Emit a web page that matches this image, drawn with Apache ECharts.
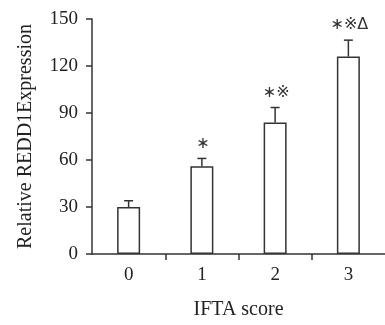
<!DOCTYPE html>
<html>
<head>
<meta charset="utf-8">
<script src="https://cdn.jsdelivr.net/npm/echarts@6/dist/echarts.min.js"></script>
<style>html,body{margin:0;padding:0;background:#fff}#c{width:385px;height:325px}</style>
</head>
<body>
<div id="c"></div>
<script>
var categories = ['0', '1', '2', '3'];
var values = [30, 56, 84, 126];
var errors = [4, 5, 9.5, 10.5];
var marks = ['', '\u2217', '\u2217\u203B', '\u2217\u203B\u0394'];
var yTicks = [0, 30, 60, 90, 120, 150];

var serif = '"Liberation Serif", "DejaVu Serif", serif';
var catIdx = categories.map(function (c, i) { return i; });
var boundaries = categories.slice(1).map(function (c, i) { return i + 0.5; });
var chart = echarts.init(document.getElementById('c'), null, {renderer: 'canvas'});
chart.setOption({
  animation: false,
  grid: {left: 92, right: -8, top: 19, bottom: 62, containLabel: false},
  xAxis: {
    type: 'value',
    min: -0.5, max: categories.length - 0.5,
    name: 'IFTA score',
    nameLocation: 'middle',
    nameGap: 46,
    nameTextStyle: {fontFamily: serif, fontSize: 20, color: '#222'},
    axisLine: {show: true, onZero: false, lineStyle: {color: '#333', width: 1.5}},
    axisTick: {show: true, length: 6, lineStyle: {color: '#333', width: 1.5}, customValues: boundaries},
    axisLabel: {fontFamily: serif, fontSize: 19, color: '#222', margin: 12, customValues: catIdx,
      formatter: function (v) { return categories[Math.round(v)]; }},
    splitLine: {show: false}
  },
  yAxis: {
    type: 'value',
    min: yTicks[0], max: yTicks[yTicks.length - 1], interval: 30,
    name: 'Relative REDD1Expression',
    nameLocation: 'middle',
    nameGap: 56,
    nameTextStyle: {fontFamily: serif, fontSize: 20, color: '#222'},
    axisLine: {show: true, onZero: false, lineStyle: {color: '#333', width: 1.5}},
    axisTick: {show: true, length: 6, lineStyle: {color: '#333', width: 1.5}},
    axisLabel: {fontFamily: serif, fontSize: 19, color: '#222', margin: 14},
    splitLine: {show: false}
  },
  series: [
    {
      type: 'bar',
      data: values.map(function (v, i) { return [i, v]; }),
      barWidth: 23,
      itemStyle: {color: '#fff', borderColor: '#333', borderWidth: 1.5},
      z: 2
    },
    {
      type: 'custom',
      data: values.map(function (v, i) { return [i, v, errors[i]]; }),
      z: 3,
      renderItem: function (params, api) {
        var x = api.coord([api.value(0), 0])[0];
        var top = api.coord([api.value(0), api.value(1)])[1];
        var et = api.coord([api.value(0), api.value(1) + api.value(2)])[1];
        var st = {stroke: '#333', lineWidth: 1.5};
        var children = [
          {type: 'line', shape: {x1: x, y1: top, x2: x, y2: et}, style: st},
          {type: 'line', shape: {x1: x - 4.5, y1: et, x2: x + 4.5, y2: et}, style: st}
        ];
        var m = marks[params.dataIndex];
        if (m) {
          children.push({type: 'text', style: {text: m, x: x + 1, y: et - 15, align: 'center', verticalAlign: 'middle',
            fontFamily: '"DejaVu Sans", "Noto Sans CJK SC", sans-serif', fontSize: 16, fill: '#333'}});
        }
        return {type: 'group', children: children};
      }
    }
  ]
});
</script>
</body>
</html>
